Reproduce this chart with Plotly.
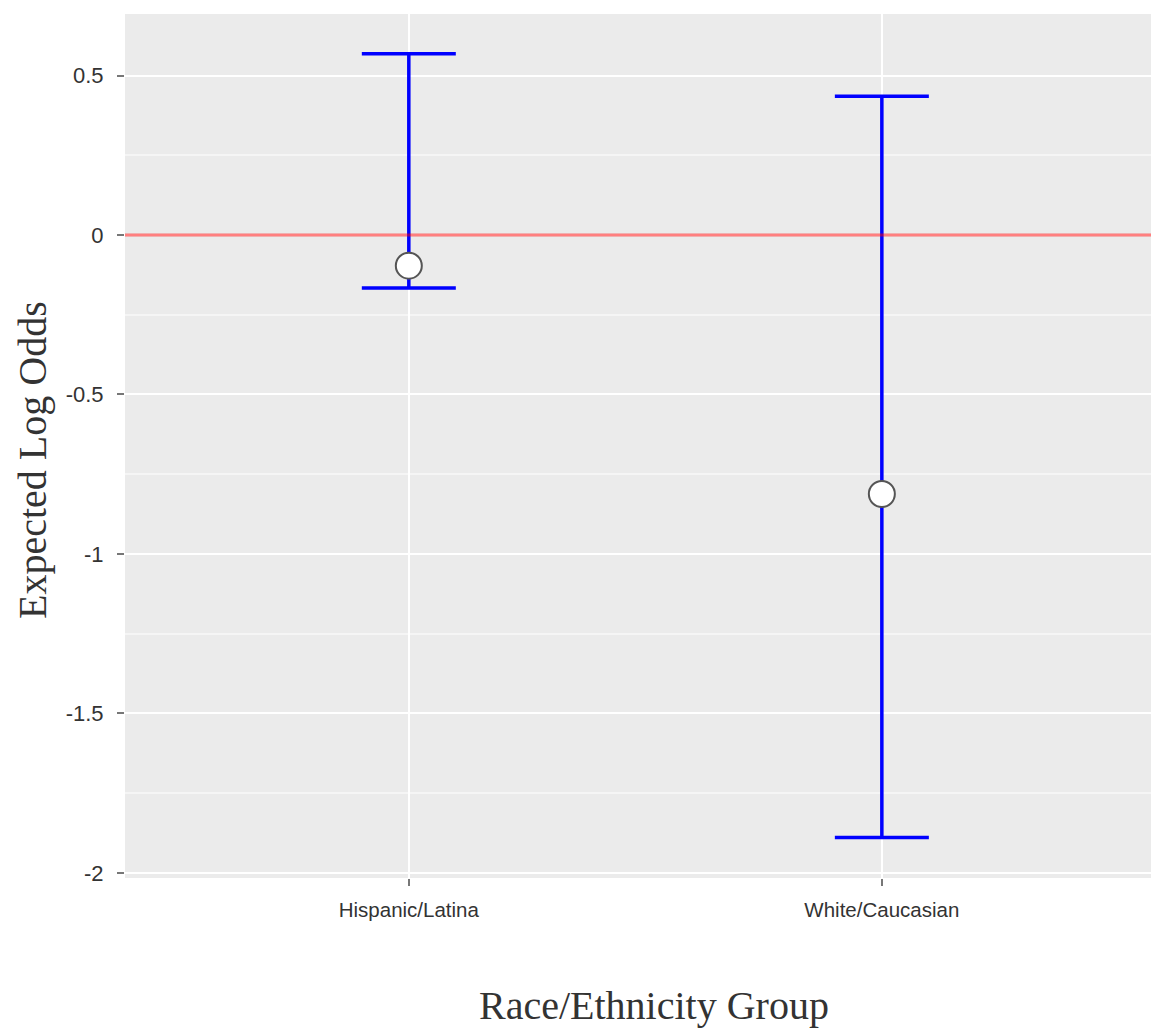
import plotly.graph_objects as go

# Data
groups = ["Hispanic/Latina", "White/Caucasian"]
group_pos = [1, 2]
estimates = [-0.096, -0.812]
upper = [0.568, 0.435]
lower = [-0.166, -1.889]

y_ticks = [-2, -1.5, -1, -0.5, 0, 0.5]
y_tick_text = ["-2", "-1.5", "-1", "-0.5", "0", "0.5"]

err_plus = [u - e for u, e in zip(upper, estimates)]
err_minus = [e - l for e, l in zip(estimates, lower)]

fig = go.Figure()
fig.add_trace(go.Scatter(
    x=group_pos, y=estimates, mode="markers",
    marker=dict(size=26, color="white", line=dict(color="#555555", width=2)),
    error_y=dict(type="data", symmetric=False, array=err_plus, arrayminus=err_minus,
                 color="#0000FF", thickness=3.5, width=47),
    showlegend=False,
))

fig.add_shape(type="line", xref="paper", x0=0, x1=1, yref="y", y0=0, y1=0,
              line=dict(color="rgba(255,0,0,0.5)", width=3), layer="above")

fig.update_layout(
    width=1151, height=1029,
    margin=dict(l=125, r=0, t=14, b=151),
    paper_bgcolor="white", plot_bgcolor="#EBEBEB",
    font=dict(family="Liberation Sans, Arial, sans-serif", color="#444444"),
    xaxis=dict(range=[0.4, 2.569], tickvals=group_pos, ticktext=groups,
               showgrid=True, gridcolor="white", gridwidth=2, zeroline=False,
               ticks="outside", ticklen=7, tickwidth=2, tickcolor="#777777",
               ticklabelstandoff=6,
               tickfont=dict(size=20.5, color="#333333"), showline=False),
    yaxis=dict(range=[-2.016, 0.693], tickvals=y_ticks, ticktext=y_tick_text,
               showgrid=True, gridcolor="white", gridwidth=2, zeroline=False,
               ticks="outside", ticklen=7, tickwidth=2, tickcolor="#777777",
               ticklabelstandoff=9,
               tickfont=dict(size=22, color="#333333"), showline=False,
               minor=dict(tick0=0.25, dtick=0.5, showgrid=True, gridcolor="#F5F5F5", gridwidth=1.5)),
    annotations=[
        dict(text="Race/Ethnicity Group", xref="paper", yref="paper",
             x=0.5156, y=-0.147, xanchor="center", yanchor="middle", showarrow=False,
             font=dict(family="Liberation Serif, Times New Roman, serif", size=40, color="#333333")),
        dict(text="Expected Log Odds", xref="paper", yref="paper", textangle=-90,
             x=-0.0897, y=0.4838, xanchor="center", yanchor="middle", showarrow=False,
             font=dict(family="Liberation Serif, Times New Roman, serif", size=40, color="#333333")),
    ],
)

fig.write_html("out.html")
